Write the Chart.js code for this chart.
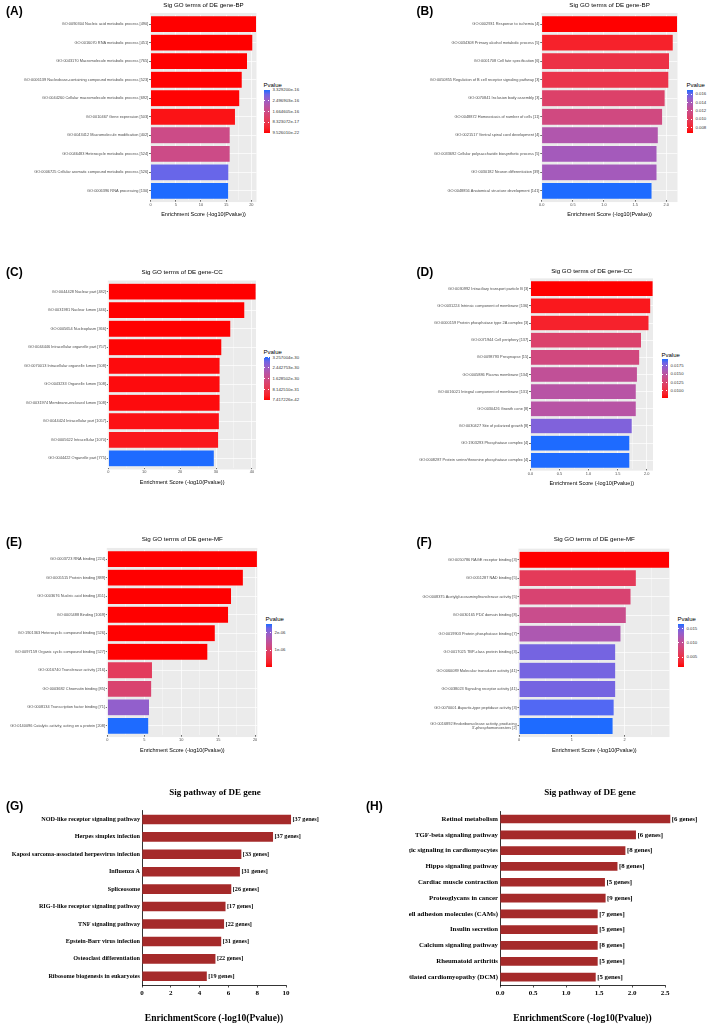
<!DOCTYPE html>
<html>
<head>
<meta charset="utf-8">
<script src="https://cdn.jsdelivr.net/npm/chart.js@4.4.1/dist/chart.umd.min.js"></script>
<style>
  body { margin: 0; background: #fff; width: 709px; height: 1032px; position: relative; overflow: hidden;
         font-family: "Liberation Sans", Arial, sans-serif; }
  .tag { position: absolute; font-weight: bold; font-size: 12px; line-height: 12px; }
  .ttl { position: absolute; white-space: nowrap; transform: translate(-50%, -50%); }
  .leg { position: absolute; white-space: nowrap; }
</style>
</head>
<body>
<script>
// ---- data ----
const termsA = ["GO:0090304 Nucleic acid metabolic process [490]", "GO:0016070 RNA metabolic process [451]",
  "GO:0043170 Macromolecule metabolic process [765]", "GO:0006139 Nucleobase-containing compound metabolic process [523]",
  "GO:0044260 Cellular macromolecule metabolic process [692]", "GO:0010467 Gene expression [503]",
  "GO:0043412 Macromolecule modification [402]", "GO:0046483 Heterocycle metabolic process [524]",
  "GO:0006725 Cellular aromatic compound metabolic process [526]", "GO:0006396 RNA processing [130]"];
const scoresA = [21.02, 20.28, 19.22, 18.17, 17.69, 16.83, 15.78, 15.78, 15.52, 15.48];
const breaksA = [3.3292e-16, 2.496903e-16, 1.664605e-16, 8.323072e-17, 9.52601e-22];
const breakTextA = ["3.329200e-16", "2.496903e-16", "1.664605e-16", "8.323072e-17", "9.526010e-22"];

const termsB = ["GO:0002931 Response to ischemia [4]", "GO:0034308 Primary alcohol metabolic process [5]",
  "GO:0001708 Cell fate specification [6]", "GO:0050855 Regulation of B cell receptor signaling pathway [3]",
  "GO:0070841 Inclusion body assembly [3]", "GO:0048872 Homeostasis of number of cells [11]",
  "GO:0021517 Ventral spinal cord development [4]", "GO:0033692 Cellular polysaccharide biosynthetic process [5]",
  "GO:0030182 Neuron differentiation [39]", "GO:0048856 Anatomical structure development [141]"];
const scoresB = [2.18, 2.11, 2.05, 2.04, 1.98, 1.94, 1.87, 1.85, 1.85, 1.77];
const breaksB = [0.016, 0.014, 0.012, 0.010, 0.008];
const breakTextB = ["0.016", "0.014", "0.012", "0.010", "0.008"];

const termsC = ["GO:0044428 Nuclear part [482]", "GO:0031981 Nuclear lumen [446]", "GO:0005654 Nucleoplasm [366]",
  "GO:0044446 Intracellular organelle part [757]", "GO:0070013 Intracellular organelle lumen [508]",
  "GO:0043233 Organelle lumen [508]", "GO:0031974 Membrane-enclosed lumen [508]",
  "GO:0044424 Intracellular part [1057]", "GO:0005622 Intracellular [1070]", "GO:0044422 Organelle part [775]"];
const scoresC = [41.13, 38.0, 34.1, 31.6, 31.1, 31.1, 31.1, 30.9, 30.7, 29.49];
const breaksC = [3.257004e-30, 2.442753e-30, 1.628502e-30, 8.14251e-31, 7.417226e-42];
const breakTextC = ["3.257004e-30", "2.442753e-30", "1.628502e-30", "8.142510e-31", "7.417226e-42"];

const termsD = ["GO:0030992 Intraciliary transport particle B [3]", "GO:0031224 Intrinsic component of membrane [136]",
  "GO:0000159 Protein phosphatase type 2A complex [3]", "GO:0071944 Cell periphery [137]",
  "GO:0098793 Presynapse [15]", "GO:0005886 Plasma membrane [134]", "GO:0016021 Integral component of membrane [131]",
  "GO:0030426 Growth cone [8]", "GO:0030427 Site of polarized growth [8]", "GO:1903293 Phosphatase complex [4]",
  "GO:0008287 Protein serine/threonine phosphatase complex [4]"];
const scoresD = [2.11, 2.07, 2.04, 1.91, 1.88, 1.84, 1.82, 1.82, 1.75, 1.71, 1.71];
const breaksD = [0.0175, 0.0150, 0.0125, 0.0100];
const breakTextD = ["0.0175", "0.0150", "0.0125", "0.0100"];

const termsE = ["GO:0003723 RNA binding [224]", "GO:0005515 Protein binding [889]", "GO:0003676 Nucleic acid binding [451]",
  "GO:0005488 Binding [1069]", "GO:1901363 Heterocyclic compound binding [526]",
  "GO:0097159 Organic cyclic compound binding [527]", "GO:0016740 Transferase activity [216]",
  "GO:0003682 Chromatin binding [85]", "GO:0008134 Transcription factor binding [71]",
  "GO:0140096 Catalytic activity, acting on a protein [208]"];
const scoresE = [20.3, 18.4, 16.8, 16.4, 14.6, 13.6, 6.1, 6.0, 5.7, 5.6];
const breaksE = [2e-6, 1e-6];
const breakTextE = ["2e-06", "1e-06"];

const termsF = ["GO:0050786 RAGE receptor binding [3]", "GO:0051287 NAD binding [5]",
  "GO:0008375 Acetylglucosaminyltransferase activity [5]", "GO:0030165 PDZ domain binding [8]",
  "GO:0019903 Protein phosphatase binding [7]", "GO:0017025 TBP-class protein binding [3]",
  "GO:0060089 Molecular transducer activity [41]", "GO:0038023 Signaling receptor activity [41]",
  "GO:0070001 Aspartic-type peptidase activity [3]",
  ["GO:0016892 Endoribonuclease activity, producing", "3'-phosphomonoesters [2]"]];
const scoresF = [2.85, 2.22, 2.12, 2.03, 1.93, 1.83, 1.83, 1.83, 1.80, 1.78];
const breaksF = [0.015, 0.010, 0.005];
const breakTextF = ["0.015", "0.010", "0.005"];

const pathwaysG = ["NOD-like receptor signaling pathway", "Herpes simplex infection",
  "Kaposi sarcoma-associated herpesvirus infection", "Influenza A", "Spliceosome",
  "RIG-I-like receptor signaling pathway", "TNF signaling pathway", "Epstein-Barr virus infection",
  "Osteoclast differentiation", "Ribosome biogenesis in eukaryotes"];
const scoresG = [10.35, 9.1, 6.9, 6.8, 6.2, 5.8, 5.7, 5.5, 5.1, 4.5];
const genesG = ["[37 genes]", "[37 genes]", "[33 genes]", "[31 genes]", "[26 genes]", "[17 genes]",
  "[22 genes]", "[31 genes]", "[22 genes]", "[19 genes]"];

const pathwaysH = ["Retinol metabolism", "TGF-beta signaling pathway", "Adrenergic signaling in cardiomyocytes",
  "Hippo signaling pathway", "Cardiac muscle contraction", "Proteoglycans in cancer",
  "Cell adhesion molecules (CAMs)", "Insulin secretion", "Calcium signaling pathway", "Rheumatoid arthritis",
  "Dilated cardiomyopathy (DCM)"];
const scoresH = [2.58, 2.06, 1.9, 1.78, 1.59, 1.6, 1.48, 1.48, 1.48, 1.48, 1.45];
const genesH = ["[6 genes]", "[6 genes]", "[8 genes]", "[8 genes]", "[5 genes]", "[9 genes]", "[7 genes]",
  "[5 genes]", "[8 genes]", "[5 genes]", "[5 genes]"];

// ---- colour scale (red -> blue, interpolated in Lab like ggplot) ----
const LOW = [255, 0, 0], HIGH = [30, 107, 255];
function lin(c) { c /= 255; return c <= 0.04045 ? c / 12.92 : Math.pow((c + 0.055) / 1.055, 2.4); }
function gam(c) {
  c = c <= 0.0031308 ? 12.92 * c : 1.055 * Math.pow(c, 1 / 2.4) - 0.055;
  return Math.round(Math.max(0, Math.min(1, c)) * 255);
}
function rgb2lab(rgb) {
  const [r, g, b] = rgb.map(lin);
  const x = (0.4124 * r + 0.3576 * g + 0.1805 * b) / 0.95047;
  const y = 0.2126 * r + 0.7152 * g + 0.0722 * b;
  const z = (0.0193 * r + 0.1192 * g + 0.9505 * b) / 1.08883;
  const f = t => t > 0.008856 ? Math.cbrt(t) : 7.787 * t + 16 / 116;
  return [116 * f(y) - 16, 500 * (f(x) - f(y)), 200 * (f(y) - f(z))];
}
function lab2rgb(lab) {
  const fy = (lab[0] + 16) / 116, fx = fy + lab[1] / 500, fz = fy - lab[2] / 200;
  const inv = t => t * t * t > 0.008856 ? t * t * t : (t - 16 / 116) / 7.787;
  const x = inv(fx) * 0.95047, y = inv(fy), z = inv(fz) * 1.08883;
  const r = 3.2406 * x - 1.5372 * y - 0.4986 * z;
  const g = -0.9689 * x + 1.8758 * y + 0.0415 * z;
  const b = 0.0557 * x - 0.2040 * y + 1.0570 * z;
  return "rgb(" + gam(r) + "," + gam(g) + "," + gam(b) + ")";
}
const labLow = rgb2lab(LOW), labHigh = rgb2lab(HIGH);
function fillAt(t) {
  t = Math.max(0, Math.min(1, t));
  return lab2rgb(labLow.map((v, i) => v + (labHigh[i] - v) * t));
}

Chart.defaults.font.family = '"Liberation Sans", Arial, sans-serif';
const SERIF = '"Liberation Serif", "Times New Roman", serif';

function addDiv(cls, x, y, text, css) {
  const d = document.createElement("div");
  d.className = cls;
  d.style.left = x + "px";
  d.style.top = y + "px";
  if (css) Object.assign(d.style, css);
  d.textContent = text;
  document.body.appendChild(d);
  return d;
}

function addCanvas(x, y, w, h) {
  const c = document.createElement("canvas");
  c.width = w; c.height = h;
  c.style.cssText = `position:absolute;left:${x}px;top:${y}px;width:${w}px;height:${h}px`;
  document.body.appendChild(c);
  return c;
}

const greyPanel = ext => ({
  id: "greyPanel",
  beforeDraw(chart) {
    const a = chart.chartArea, ctx = chart.ctx;
    ctx.save();
    ctx.fillStyle = "#EBEBEB";
    ctx.fillRect(a.left - 0.5, a.top - ext, a.right - a.left + 0.5, a.bottom - a.top + 2 * ext);
    ctx.restore();
  }
});

// ggplot-style GO bar panel
function goPanel(p) {
  const x0 = p.x0, y0 = Math.floor(p.plotT - 4);
  const W = Math.round(p.plotR + 3 - x0);
  const H = Math.round(p.xTitleY + 3.3 - y0);
  const padTop = p.plotT - y0, padRight = W - (p.plotR - x0);
  const axisH = H - (p.plotB - y0);
  const n = p.labels.length, unit = (p.plotB - p.plotT) / n;
  const pv = p.scores.map(s => Math.pow(10, -s));
  const pmin = Math.min(...pv), pmax = Math.max(...pv);
  const isMajor = v => Math.abs(v / p.step - Math.round(v / p.step)) < 1e-6;

  new Chart(addCanvas(x0, y0, W, H), {
    type: "bar",
    data: {
      labels: p.labels,
      datasets: [{
        data: p.scores,
        backgroundColor: pv.map(v => fillAt((v - pmin) / (pmax - pmin))),
        borderColor: "rgba(255,255,255,0.35)",
        borderWidth: 0.4,
        barPercentage: 0.9,
        categoryPercentage: 1
      }]
    },
    options: {
      indexAxis: "y",
      responsive: false,
      animation: false,
      events: [],
      layout: { padding: { top: padTop, right: padRight, left: 0, bottom: 0 } },
      plugins: { legend: { display: false }, tooltip: { enabled: false } },
      scales: {
        x: {
          min: 0, max: p.max,
          ticks: {
            stepSize: p.step / 2, includeBounds: false, autoSkip: false, maxRotation: 0,
            font: { size: 3.9 }, color: "#4D4D4D", padding: 0.8,
            callback: v => isMajor(v) ? v.toFixed(p.dec) : ""
          },
          grid: {
            color: "#FFFFFF",
            lineWidth: c => isMajor(c.tick.value) ? 0.7 : 0.35,
            tickColor: c => isMajor(c.tick.value) ? "#333333" : "rgba(0,0,0,0)",
            tickLength: 1.5
          },
          border: { display: false },
          title: { display: true, text: "Enrichment Score (-log10(Pvalue))", font: { size: 5.5 },
                   color: "#000", padding: 0 },
          afterFit: s => { s.height = axisH; }
        },
        y: {
          ticks: { font: { size: 3.9 }, color: "#4D4D4D", padding: 0.8, autoSkip: false },
          grid: { color: "#FFFFFF", lineWidth: 0.7, offset: false, tickColor: "#333333", tickLength: 1.5 },
          border: { display: false },
          afterFit: s => { s.width = p.plotL - x0; }
        }
      }
    },
    plugins: [greyPanel(unit * 0.1)]
  });

  // panel tag and title
  addDiv("tag", p.tagX, p.tagY, p.tag);
  addDiv("ttl", (p.plotL + p.plotR) / 2, p.titleY, p.title, { fontSize: "6.2px" });

  // colour bar legend
  const L = p.leg;
  addDiv("leg", L.x - 0.5, L.titleY - 3.5, "Pvalue", { fontSize: "6px", lineHeight: "7px" });
  const stops = [];
  for (let i = 0; i <= 10; i++) stops.push(fillAt(i / 10) + " " + (i * 10) + "%");
  addDiv("leg", L.x, L.top, "", {
    width: "5.5px", height: (L.bottom - L.top) + "px",
    background: "linear-gradient(to top, " + stops.join(",") + ")"
  });
  p.breaks.forEach((b, i) => {
    const t = (b - pmin) / (pmax - pmin);
    if (t < -0.02 || t > 1.02) return;
    const y = L.bottom - Math.max(0, Math.min(1, t)) * (L.bottom - L.top);
    addDiv("leg", L.x + 8.5, y - 2.6, p.breakText[i], { fontSize: "4.3px", lineHeight: "5.2px", color: "#333" });
    addDiv("leg", L.x, y - 0.3, "", { width: "1.2px", height: "0.6px", background: "#fff" });
    addDiv("leg", L.x + 4.3, y - 0.3, "", { width: "1.2px", height: "0.6px", background: "#fff" });
  });
}

const geneLabels = (genes, size) => ({
  id: "geneLabels",
  afterDatasetsDraw(chart) {
    const ctx = chart.ctx;
    ctx.save();
    ctx.font = "bold " + size + "px " + SERIF;
    ctx.fillStyle = "#000";
    ctx.textBaseline = "middle";
    chart.getDatasetMeta(0).data.forEach((bar, i) => ctx.fillText(genes[i], bar.x + 1.5, bar.y));
    ctx.restore();
  }
});

// base-R style pathway bar panel (labels that run past the canvas edge are cut, as in the figure)
function pathPanel(p) {
  const x0 = p.x0, y0 = Math.floor(p.plotT - 3);
  const W = p.W, H = Math.round(p.xTitleY + 6 - y0);
  const axisH = H - (p.plotB - y0);
  new Chart(addCanvas(x0, y0, W, H), {
    type: "bar",
    data: {
      labels: p.labels,
      datasets: [{ data: p.scores, backgroundColor: "#A52A2A", barPercentage: 0.55, categoryPercentage: 1, clip: false }]
    },
    options: {
      indexAxis: "y",
      responsive: false,
      animation: false,
      events: [],
      layout: { padding: { top: p.plotT - y0, right: W - (p.plotR - x0), left: 0, bottom: 0 } },
      plugins: { legend: { display: false }, tooltip: { enabled: false } },
      scales: {
        x: {
          min: 0, max: p.max,
          ticks: { stepSize: p.step, font: { family: SERIF, weight: "bold", size: 7 }, color: "#000",
                   padding: 1, maxRotation: 0, callback: v => v.toFixed(p.dec) },
          grid: { drawOnChartArea: false, color: "#000", lineWidth: 0.7, tickLength: 2.5 },
          border: { color: "#000", width: 0.8 },
          title: { display: true, text: "EnrichmentScore (-log10(Pvalue))",
                   font: { family: SERIF, weight: "bold", size: 9.5 }, color: "#000", padding: 0 },
          afterFit: s => { s.height = axisH; }
        },
        y: {
          ticks: { font: { family: SERIF, weight: "bold", size: p.fs }, color: "#000", padding: 2, autoSkip: false },
          grid: { drawOnChartArea: false, drawTicks: false },
          border: { color: "#000", width: 0.8 },
          afterFit: s => { s.width = p.plotL - x0; }
        }
      }
    },
    plugins: [geneLabels(p.genes, p.fs)]
  });
  addDiv("tag", p.tagX, p.tagY, p.tag);
  addDiv("ttl", p.titleX, p.titleY, p.title, { fontFamily: SERIF, fontWeight: "bold", fontSize: "9px" });
}

// ---- panels ----
goPanel({ tag: "(A)", tagX: 6, tagY: 4.5, title: "Sig GO terms of DE gene-BP", titleY: 4.3,
  labels: termsA, scores: scoresA, breaks: breaksA, breakText: breakTextA,
  x0: 0, plotL: 150.5, plotR: 256.5, plotT: 14.8, plotB: 200.2, xTitleY: 215, max: 21.02, step: 5, dec: 0,
  leg: { x: 264, titleY: 85, top: 89.5, bottom: 133 } });

goPanel({ tag: "(B)", tagX: 416.5, tagY: 4.5, title: "Sig GO terms of DE gene-BP", titleY: 4.3,
  labels: termsB, scores: scoresB, breaks: breaksB, breakText: breakTextB,
  x0: 356, plotL: 541.7, plotR: 677.5, plotT: 14.8, plotB: 200.2, xTitleY: 215, max: 2.18, step: 0.5, dec: 1,
  leg: { x: 687, titleY: 85, top: 90, bottom: 133 } });

goPanel({ tag: "(C)", tagX: 6, tagY: 266, title: "Sig GO terms of DE gene-CC", titleY: 270.7,
  labels: termsC, scores: scoresC, breaks: breaksC, breakText: breakTextC,
  x0: 0, plotL: 108.3, plotR: 256, plotT: 282.4, plotB: 467.6, xTitleY: 483, max: 41.13, step: 10, dec: 0,
  leg: { x: 264, titleY: 352, top: 357.3, bottom: 400 } });

goPanel({ tag: "(D)", tagX: 416.5, tagY: 266, title: "Sig GO terms of DE gene-CC", titleY: 270,
  labels: termsD, scores: scoresD, breaks: breaksD, breakText: breakTextD,
  x0: 356, plotL: 530.5, plotR: 653, plotT: 280.1, plotB: 468.9, xTitleY: 484, max: 2.11, step: 0.5, dec: 1,
  leg: { x: 662, titleY: 355, top: 359, bottom: 398 } });

goPanel({ tag: "(E)", tagX: 6, tagY: 536, title: "Sig GO terms of DE gene-MF", titleY: 538,
  labels: termsE, scores: scoresE, breaks: breaksE, breakText: breakTextE,
  x0: 0, plotL: 107.3, plotR: 257.3, plotT: 549.8, plotB: 735.2, xTitleY: 751, max: 20.3, step: 5, dec: 0,
  leg: { x: 266, titleY: 619, top: 624, bottom: 667 } });

goPanel({ tag: "(F)", tagX: 416.5, tagY: 536, title: "Sig GO terms of DE gene-MF", titleY: 538,
  labels: termsF, scores: scoresF, breaks: breaksF, breakText: breakTextF,
  x0: 356, plotL: 519, plotR: 669.5, plotT: 549.8, plotB: 735.2, xTitleY: 751, max: 2.85, step: 1, dec: 0,
  leg: { x: 678, titleY: 619, top: 624, bottom: 667 } });

pathPanel({ tag: "(G)", tagX: 6, tagY: 800, title: "Sig pathway of DE gene", titleX: 215, titleY: 792,
  labels: pathwaysG, scores: scoresG, genes: genesG, fs: 6.2,
  x0: 0, W: 345, plotL: 142, plotR: 286, plotT: 808, plotB: 985, xTitleY: 1018, max: 10, step: 2, dec: 0 });

pathPanel({ tag: "(H)", tagX: 366, tagY: 800, title: "Sig pathway of DE gene", titleX: 590, titleY: 792,
  labels: pathwaysH, scores: scoresH, genes: genesH, fs: 6.8,
  x0: 409, W: 300, plotL: 500, plotR: 665, plotT: 808, plotB: 985, xTitleY: 1018, max: 2.5, step: 0.5, dec: 1 });
</script>
</body>
</html>
